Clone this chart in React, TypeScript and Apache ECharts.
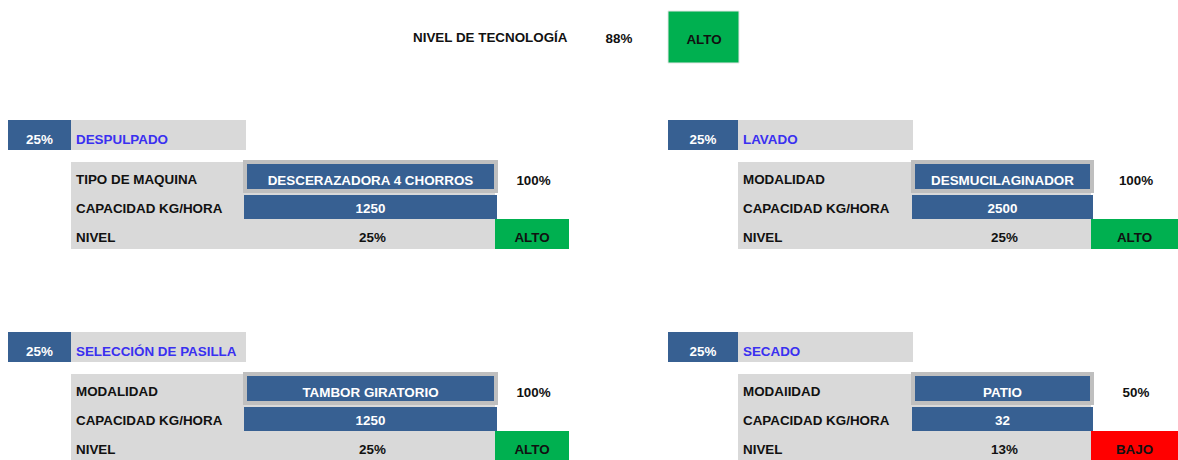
import React, { useEffect, useRef } from "react";
import * as echarts from "echarts";

// ---- Data ----
const TOTAL_LABEL = "NIVEL DE TECNOLOGÍA";
const TOTAL_VALUE = "88%";
const TOTAL_RATING = "ALTO";

const SECTIONS = ["DESPULPADO", "LAVADO", "SELECCIÓN DE PASILLA", "SECADO"];
const SECTION_WEIGHTS = ["25%", "25%", "25%", "25%"];
const ROW1_LABELS = ["TIPO DE MAQUINA", "MODALIDAD", "MODALIDAD", "MODAlIDAD"];
const ROW2_LABEL = "CAPACIDAD KG/HORA";
const ROW3_LABEL = "NIVEL";
const MACHINES = ["DESCERAZADORA 4 CHORROS", "DESMUCILAGINADOR", "TAMBOR GIRATORIO", "PATIO"];
const MACHINE_SCORES = ["100%", "100%", "100%", "50%"];
const CAPACITIES = [1250, 2500, 1250, 32];
const LEVELS = ["25%", "25%", "25%", "13%"];
const RATINGS = ["ALTO", "ALTO", "ALTO", "BAJO"];

// ---- Layout / style ----
const LAYOUT = [
  { bx: 8, lx: 71, hx2: 246, vx: 243, vx2: 498, gx2: 569, y: 120 },
  { bx: 668, lx: 738, hx2: 913, vx: 911, vx2: 1094, gx2: 1178, y: 120 },
  { bx: 8, lx: 71, hx2: 246, vx: 243, vx2: 498, gx2: 569, y: 332 },
  { bx: 668, lx: 738, hx2: 913, vx: 911, vx2: 1094, gx2: 1178, y: 332 },
];
const BLUE = "#376092";
const GREY = "#d9d9d9";
const BORDER = "#bfbfbf";
const GREEN = "#00b050";
const RED = "#ff0000";
const DARK = "#111111";
const HEAD_TEXT = "#3a30f0";
const FONT = "'Liberation Sans', Arial, sans-serif";
const FS = 13.4;

function txt(x: number, y: number, text: string, color: string, align: string = "center") {
  return {
    type: "text",
    x,
    y,
    style: {
      text,
      fill: color,
      font: `bold ${FS}px ${FONT}`,
      textAlign: align,
      textVerticalAlign: "middle",
    },
    z: 10,
  };
}
function rect(x: number, y: number, w: number, h: number, fill: string, extra: any = {}) {
  return { type: "rect", shape: { x, y, width: w, height: h }, style: { fill, ...extra } };
}

function buildGraphic() {
  const els: any[] = [];
  // Top summary
  els.push(txt(413, 37, TOTAL_LABEL, DARK, "left"));
  els.push(txt(619, 38, TOTAL_VALUE, DARK));
  els.push(rect(668, 11, 71, 52, GREEN, { stroke: "#e6e6e6", lineWidth: 1 }));
  els.push(txt(704, 39, TOTAL_RATING, DARK));

  SECTIONS.forEach((name, i) => {
    const L = LAYOUT[i];
    const y = L.y;
    const greenX = L.vx2 - 3;
    const rating = RATINGS[i];
    // header
    els.push(rect(L.bx, y, L.lx - L.bx, 30, BLUE));
    els.push(rect(L.lx, y, L.hx2 - L.lx, 30, GREY));
    els.push(txt((L.bx + L.lx) / 2, y + 19, SECTION_WEIGHTS[i], "#ffffff"));
    els.push(txt(L.lx + 5, y + 19, name, HEAD_TEXT, "left"));
    // table body
    els.push(rect(L.lx, y + 42, greenX - L.lx, 87, GREY));
    els.push(
      rect(L.vx + 2, y + 42, L.vx2 - L.vx - 4, 29, BLUE, { stroke: BORDER, lineWidth: 4 })
    );
    els.push(rect(L.vx + 1, y + 75, L.vx2 - L.vx - 2, 24, BLUE));
    els.push(rect(greenX, y + 99, L.gx2 - greenX, 30, rating === "BAJO" ? RED : GREEN));
    // labels
    els.push(txt(L.lx + 5, y + 59, ROW1_LABELS[i], DARK, "left"));
    els.push(txt(L.lx + 5, y + 88, ROW2_LABEL, DARK, "left"));
    els.push(txt(L.lx + 5, y + 117, ROW3_LABEL, DARK, "left"));
    const vc = (L.vx + L.vx2) / 2;
    els.push(txt(vc, y + 60, MACHINES[i], "#ffffff"));
    els.push(txt(vc, y + 88, String(CAPACITIES[i]), "#ffffff"));
    els.push(txt(vc + 2, y + 117, LEVELS[i], DARK));
    els.push(txt((L.vx2 + L.gx2) / 2, y + 60, MACHINE_SCORES[i], DARK));
    els.push(txt((greenX + L.gx2) / 2, y + 117, rating, DARK));
  });
  return els;
}

export default function App() {
  const ref = useRef<HTMLDivElement>(null);
  useEffect(() => {
    if (!ref.current) return;
    const chart = echarts.init(ref.current, null, { renderer: "svg" });
    chart.setOption({
      animation: false,
      backgroundColor: "#ffffff",
      graphic: { elements: buildGraphic() },
    });
    return () => chart.dispose();
  }, []);
  return (
    <div
      ref={ref}
      style={{ position: "fixed", left: 0, top: 0, width: 1178, height: 460, background: "#fff" }}
    />
  );
}
